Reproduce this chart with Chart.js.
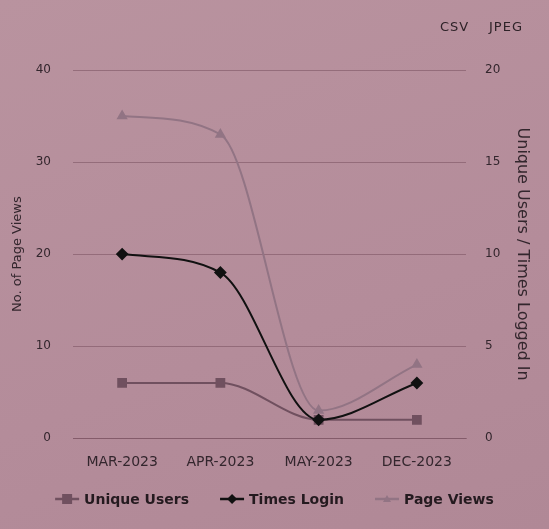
<!DOCTYPE html>
<html>
<head>
<meta charset="utf-8">
<script src="https://cdn.jsdelivr.net/npm/chart.js@4/dist/chart.umd.min.js"></script>
<style>
  html, body { margin:0; padding:0; width:549px; height:529px; overflow:hidden;
    background: linear-gradient(160deg, #b9939f 0%, #b48c9a 60%, #b08896 100%); }
  #wrap { position:relative; width:549px; height:529px; }
  canvas { position:absolute; left:0; top:0; }
  .btn { position:absolute; top:19px; font: 13px "DejaVu Sans", sans-serif; color:#2e2228; letter-spacing:1px; }
</style>
</head>
<body>
<div id="wrap">
  <canvas id="c" width="549" height="529"></canvas>
  <span class="btn" style="left:440px">CSV</span>
  <span class="btn" style="left:489px">JPEG</span>
</div>
<script>
const categories = ['MAR-2023', 'APR-2023', 'MAY-2023', 'DEC-2023'];
const uniqueUsers = [3, 3, 1, 1];
const timesLogin = [10, 9, 1, 3];
const pageViews = [35, 33, 3, 8];
const leftTicks = [0, 10, 20, 30, 40];
const rightTicks = [0, 5, 10, 15, 20];

const textColor = '#33262d';
const gridColor = 'rgba(120,80,95,0.55)';
const font = '"DejaVu Sans", sans-serif';

// custom legend: line + marker, then bold label
const customLegend = {
  id: 'customLegend',
  afterDraw(chart) {
    const ctx = chart.ctx;
    ctx.save();
    ctx.font = 'bold 14px ' + font;
    const iconW = 24, gapText = 5, gapItem = 31, y = 499;
    const items = chart.data.datasets.map(d => ({ d, w: iconW + gapText + ctx.measureText(d.label).width }));
    const total = items.reduce((s, it) => s + it.w, 0) + gapItem * (items.length - 1);
    let x = (chart.width - total) / 2;
    items.forEach(({ d, w }) => {
      const c = d.borderColor;
      ctx.strokeStyle = c; ctx.fillStyle = c; ctx.lineWidth = 2.5;
      ctx.beginPath(); ctx.moveTo(x, y); ctx.lineTo(x + iconW, y); ctx.stroke();
      const cx = x + iconW / 2;
      ctx.beginPath();
      if (d.pointStyle === 'rect') ctx.rect(cx - 5, y - 5, 10, 10);
      else if (d.pointStyle === 'rectRot') { ctx.moveTo(cx, y - 5); ctx.lineTo(cx + 5, y); ctx.lineTo(cx, y + 5); ctx.lineTo(cx - 5, y); ctx.closePath(); }
      else { ctx.moveTo(cx, y - 4); ctx.lineTo(cx + 4, y + 3); ctx.lineTo(cx - 4, y + 3); ctx.closePath(); }
      ctx.fill();
      ctx.fillStyle = '#241a1f';
      ctx.textBaseline = 'middle';
      ctx.textAlign = 'left';
      ctx.fillText(d.label, x + iconW + gapText, y + 1);
      x += w + gapItem;
    });
    ctx.restore();
  }
};

const uuColor = '#70505f';
const tlColor = '#111111';
const pvColor = '#927484';

new Chart(document.getElementById('c'), {
  type: 'line',
  plugins: [customLegend],
  data: {
    labels: categories,
    datasets: [
      { label: 'Unique Users', data: uniqueUsers, yAxisID: 'y1', borderColor: uuColor, backgroundColor: uuColor,
        pointStyle: 'rect', pointRadius: 5.5, borderWidth: 2, cubicInterpolationMode: 'monotone', order: 3 },
      { label: 'Times Login', data: timesLogin, yAxisID: 'y1', borderColor: tlColor, backgroundColor: tlColor,
        pointStyle: 'rectRot', pointRadius: 5, borderWidth: 2, cubicInterpolationMode: 'monotone', order: 1 },
      { label: 'Page Views', data: pageViews, yAxisID: 'y', borderColor: pvColor, backgroundColor: pvColor,
        pointStyle: 'triangle', pointRadius: 4.5, borderWidth: 2, cubicInterpolationMode: 'monotone', order: 2 }
    ]
  },
  options: {
    responsive: false,
    animation: false,
    layout: { padding: { top: 70, left: 0, right: 0, bottom: 42 } },
    plugins: {
      tooltip: { enabled: false },
      legend: { display: false }
    },
    scales: {
      x: {
        offset: true,
        grid: { display: false, drawTicks: false },
        border: { display: true, color: gridColor },
        ticks: { color: textColor, font: { family: font, size: 14 }, padding: 16, maxRotation: 0 }
      },
      y: {
        position: 'left',
        min: 0, max: 40,
        afterBuildTicks(axis) { axis.ticks = leftTicks.map(v => ({ value: v })); },
        afterFit(axis) { axis.width = 73; },
        grid: { color: gridColor, drawTicks: false },
        border: { display: false },
        ticks: { color: textColor, font: { family: font, size: 12 }, padding: 22 },
        title: { display: true, text: 'No. of Page Views', color: textColor, font: { family: font, size: 13 }, padding: { top: 10, bottom: 0 } }
      },
      y1: {
        position: 'right',
        min: 0, max: 20,
        afterBuildTicks(axis) { axis.ticks = rightTicks.map(v => ({ value: v })); },
        afterFit(axis) { axis.width = 83; },
        grid: { display: false, drawTicks: false },
        border: { display: false },
        ticks: { color: textColor, font: { family: font, size: 12 }, padding: 19 },
        title: { display: true, text: 'Unique Users / Times Logged In', color: textColor, font: { family: font, size: 16 }, padding: { top: 17, bottom: 0 } }
      }
    }
  }
});
</script>
</body>
</html>
